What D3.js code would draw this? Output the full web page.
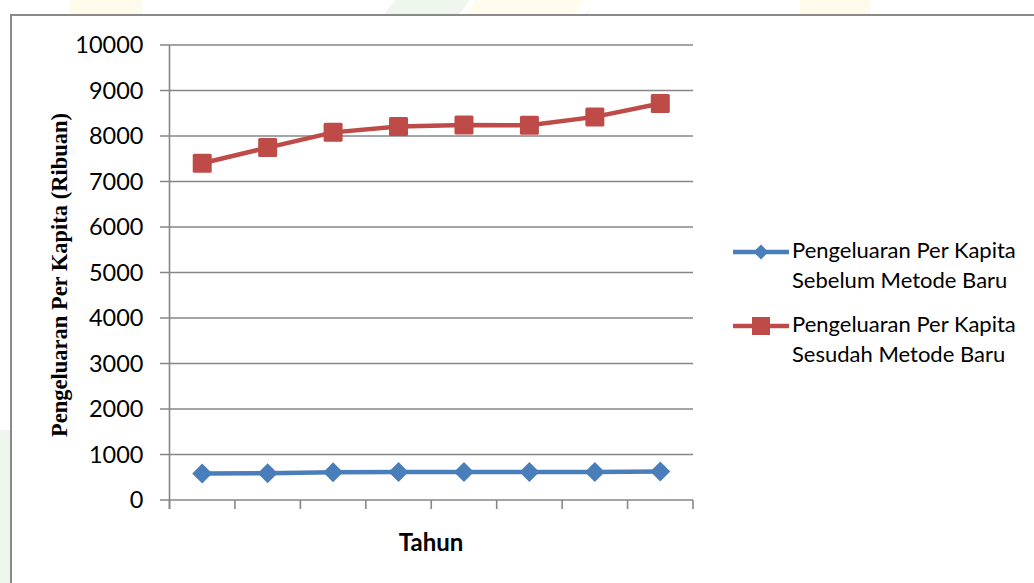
<!DOCTYPE html>
<html>
<head>
  <meta charset="UTF-8">
  <title>Pengeluaran Per Kapita</title>
  <style>
    body { margin: 0; background: #fff; }
    svg { display: block; }
  </style>
</head>
<body>
<svg></svg>
<script src="https://d3js.org/d3.v7.min.js"></script>
<script>

let width = 1034,
    height = 583;

// data
let years = ["1", "2", "3", "4", "5", "6", "7", "8"];
let sebelum = [585, 590, 612, 615, 616, 617, 618, 625];
let sesudah = [7400, 7745, 8080, 8210, 8240, 8235, 8420, 8715];
let yTicks = [0, 1000, 2000, 3000, 4000, 5000, 6000, 7000, 8000, 9000, 10000];
let seriesNames = [
    ["Pengeluaran Per Kapita", "Sebelum Metode Baru"],
    ["Pengeluaran Per Kapita", "Sesudah Metode Baru"]
];

let blue = "#4a7ebb", red = "#be4b48", grid = "#878787";
let labelFont = "Lato, 'Open Sans', sans-serif";

let svg = d3.select("svg")
    .attr("width", width)
    .attr("height", height);

// faint watermark shapes behind the chart
let wm = svg.append("g").attr("id", "watermark");
wm.append("rect").attr("x", 70).attr("y", 0).attr("width", 72).attr("height", 20).attr("fill", "#fffbea");
wm.append("rect").attr("x", 800).attr("y", 0).attr("width", 70).attr("height", 20).attr("fill", "#fffbea");
wm.append("polygon").attr("points", "380,20 455,20 470,0 395,0").attr("fill", "#eef6ee");
wm.append("polygon").attr("points", "460,20 570,20 585,0 475,0").attr("fill", "#fffcee");
wm.append("polygon").attr("points", "575,20 585,20 590,10").attr("fill", "#eef6ee");
wm.append("rect").attr("x", 0).attr("y", 430).attr("width", 12).attr("height", 153).attr("fill", "#eef6ee");

// chart frame
svg.append("rect")
    .attr("x", 11).attr("y", 15)
    .attr("width", 1040).attr("height", 600)
    .attr("fill", "#fff")
    .attr("stroke", "#8a8a8a")
    .attr("stroke-width", 2);

let x = d3.scaleBand()
    .domain(years)
    .range([169.5, 693]);

let y = d3.scaleLinear()
    .domain([0, 10000])
    .range([500, 45]);

// gridlines
svg.append("g")
    .selectAll("line")
    .data(yTicks)
    .enter()
    .append("line")
    .attr("x1", 160)
    .attr("x2", 693)
    .attr("y1", d => y(d))
    .attr("y2", d => y(d))
    .attr("stroke", grid)
    .attr("stroke-width", 1.6);

// y axis labels
let yAxis = svg.append("g")
    .attr("transform", "translate(169.5,0)")
    .call(d3.axisLeft(y).tickValues(yTicks).tickSize(0).tickPadding(26).tickFormat(d3.format("d")));
yAxis.select(".domain").remove();
yAxis.selectAll("text")
    .attr("fill", "#000")
    .style("font-family", labelFont)
    .style("font-size", "23.5px");

// axis lines
svg.append("line")
    .attr("x1", 169.5).attr("x2", 169.5)
    .attr("y1", 45).attr("y2", 509)
    .attr("stroke", grid).attr("stroke-width", 1.6);

let xTicks = years.map(d => x(d)).concat([x.range()[1]]);
svg.append("g")
    .selectAll("line")
    .data(xTicks)
    .enter()
    .append("line")
    .attr("x1", d => d).attr("x2", d => d)
    .attr("y1", 500).attr("y2", 509)
    .attr("stroke", grid).attr("stroke-width", 1.6);

// series lines
let line = d3.line()
    .x((d, i) => x(years[i]) + x.bandwidth() / 2)
    .y(d => y(d));

svg.append("path")
    .datum(sebelum)
    .attr("d", line)
    .attr("fill", "none")
    .attr("stroke", blue)
    .attr("stroke-width", 4.5);

svg.append("path")
    .datum(sesudah)
    .attr("d", line)
    .attr("fill", "none")
    .attr("stroke", red)
    .attr("stroke-width", 4.5);

// markers
let diamond = d3.symbol().type(d3.symbolSquare).size(200);
svg.append("g")
    .selectAll("path")
    .data(sebelum)
    .enter()
    .append("path")
    .attr("d", diamond)
    .attr("transform", (d, i) => "translate(" + (x(years[i]) + x.bandwidth() / 2) + "," + y(d) + ") rotate(45)")
    .attr("fill", blue);

svg.append("g")
    .selectAll("rect")
    .data(sesudah)
    .enter()
    .append("rect")
    .attr("x", (d, i) => x(years[i]) + x.bandwidth() / 2 - 9.5)
    .attr("y", d => y(d) - 9.5)
    .attr("width", 19)
    .attr("height", 19)
    .attr("rx", 1.5)
    .attr("fill", red);

// axis titles
svg.append("text")
    .attr("x", 431)
    .attr("y", 551)
    .attr("text-anchor", "middle")
    .style("font-family", labelFont)
    .style("font-weight", "bold")
    .style("font-size", "24px")
    .text("Tahun");

svg.append("text")
    .attr("transform", "translate(67,275) rotate(-90)")
    .attr("text-anchor", "middle")
    .style("font-family", "'Liberation Serif', 'Times New Roman', serif")
    .style("font-weight", "bold")
    .style("font-size", "22.5px")
    .text("Pengeluaran Per Kapita (Ribuan)");

// legend
let legend = svg.selectAll("g.legend")
    .data([0, 1])
    .enter().append("g")
    .attr("class", "legend")
    .attr("transform", (d, i) => "translate(0," + (252 + i * 74) + ")");

legend.append("line")
    .attr("x1", 733).attr("x2", 789)
    .attr("y1", 0).attr("y2", 0)
    .attr("stroke", (d, i) => i == 0 ? blue : red)
    .attr("stroke-width", 4.5);

legend.filter(d => d == 0).append("path")
    .attr("d", d3.symbol().type(d3.symbolSquare).size(110))
    .attr("transform", "translate(761,0) rotate(45)")
    .attr("fill", blue);

legend.filter(d => d == 1).append("rect")
    .attr("x", 752).attr("y", -9)
    .attr("width", 18).attr("height", 18)
    .attr("fill", red);

legend.append("text")
    .attr("x", 792)
    .attr("y", 6)
    .style("font-family", labelFont)
    .style("font-size", "22px")
    .selectAll("tspan")
    .data(d => seriesNames[d])
    .enter()
    .append("tspan")
    .attr("x", 792)
    .attr("dy", (d, i) => i == 0 ? 0 : 30)
    .text(d => d);

</script>
</body>
</html>
